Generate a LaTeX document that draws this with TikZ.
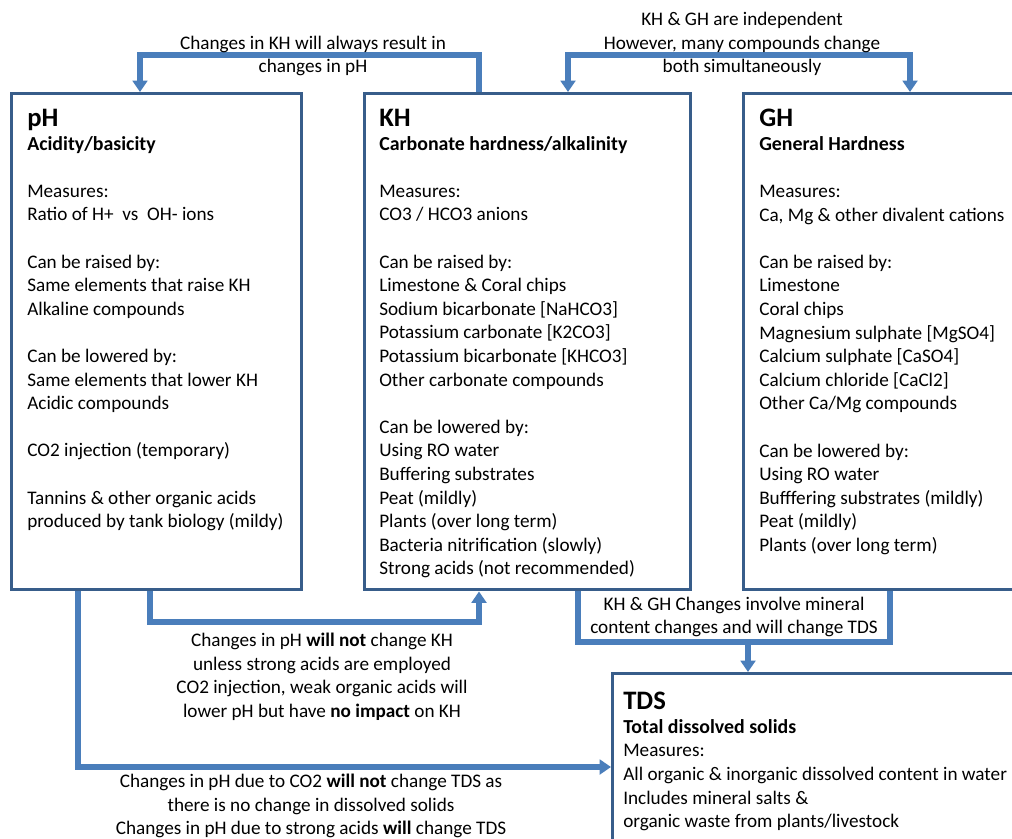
\documentclass[tikz,border=0pt]{standalone}
\usepackage{fontspec}
\setmainfont{Carlito}
\usetikzlibrary{arrows.meta,calc,positioning}
\definecolor{boxline}{HTML}{385D8A}
\definecolor{flowline}{HTML}{4A7EBB}
\newcommand{\bodyfont}{\fontsize{14.4}{17.7}\selectfont}
\newcommand{\headfont}{\fontsize{20}{17.7}\selectfont\bfseries}
\newcommand{\subhead}[1]{{\fontsize{14.9}{17.7}\selectfont\bfseries #1}}
\tikzset{
  panel/.style={draw=boxline, line width=2.6pt, fill=white, anchor=north west, inner sep=0pt},
  paneltext/.style={anchor=north west, inner sep=0pt, align=left, font=\bodyfont},
  flow/.style={draw=flowline, line width=3.9pt},
  tip/.tip={Triangle[width=11pt,length=8.5pt]},
  flowarrow/.style={flow, -tip},
  note/.style={align=center, font=\bodyfont, inner sep=0pt},
}
\begin{document}
\begin{tikzpicture}[x=0.75pt, y=0.75pt]
  \useasboundingbox[fill=white] (0,0) rectangle (1012,-838);
  % boxes (sizes in pt: 0.75pt per unit)
  \node[panel, minimum width=217.5pt, minimum height=372pt] (ph) at (10,-92) {};
  \node[panel, minimum width=244.5pt, minimum height=372pt] (kh) at (363,-92) {};
  \node[panel, minimum width=240pt, minimum height=372pt] (gh) at (742,-92) {};
  \node[panel, minimum width=322.5pt, minimum height=150pt] (tds) at (611,-672) {};
  % box texts
  \node[paneltext] (phtext) at ($(ph.north west)+(17,-17)$) {%
    {\headfont pH}\\
    \subhead{Acidity/basicity}\\ \mbox{}\\
    Measures:\\
    Ratio of H+ \ vs \ OH- ions\\ \mbox{}\\
    Can be raised by:\\
    Same elements that raise KH\\
    Alkaline compounds\\ \mbox{}\\
    Can be lowered by:\\
    Same elements that lower KH\\
    Acidic compounds\\ \mbox{}\\
    CO2 injection (temporary)\\ \mbox{}\\
    Tannins \& other organic acids\\
    produced by tank biology (mildy)};
  \node[paneltext] (khtext) at ($(kh.north west)+(16,-17)$) {%
    {\headfont KH}\\
    \subhead{Carbonate hardness/alkalinity}\\ \mbox{}\\
    Measures:\\
    CO3 / HCO3 anions\\ \mbox{}\\
    Can be raised by:\\
    Limestone \& Coral chips\\
    Sodium bicarbonate [NaHCO3]\\
    Potassium carbonate [K2CO3]\\
    Potassium bicarbonate [KHCO3]\\
    Other carbonate compounds\\ \mbox{}\\
    Can be lowered by:\\
    Using RO water\\
    Buffering substrates\\
    Peat (mildly)\\
    Plants (over long term)\\
    Bacteria nitrification (slowly)\\
    Strong acids (not recommended)};
  \node[paneltext] (ghtext) at ($(gh.north west)+(17,-17)$) {%
    {\headfont GH}\\
    \subhead{General Hardness}\\ \mbox{}\\
    Measures:\\
    Ca, Mg \& other divalent cations\\ \mbox{}\\
    Can be raised by:\\
    Limestone\\
    Coral chips\\
    Magnesium sulphate [MgSO4]\\
    Calcium sulphate [CaSO4]\\
    Calcium chloride [CaCl2]\\
    Other Ca/Mg compounds\\ \mbox{}\\
    Can be lowered by:\\
    Using RO water\\
    Bufffering substrates (mildly)\\
    Peat (mildly)\\
    Plants (over long term)};
  \node[paneltext] (tdstext) at ($(tds.north west)+(12,-20)$) {%
    {\headfont TDS}\\
    \subhead{Total dissolved solids}\\
    Measures:\\
    All organic \& inorganic dissolved content in water\\
    Includes mineral salts \&\\
    organic waste from plants/livestock};
  % connectors
  \coordinate (khph) at (312,-55);
  \draw[flowarrow] ($(kh.north west)+(116,0)$) |- (khph) -| ($(ph.north west)+(130,0)$);
  \coordinate (khgh) at (742,-55);
  \draw[flow, tip-tip] ($(kh.north west)+(205,0)$) |- (khgh) -| ($(gh.north west)+(168,0)$);
  \coordinate (phkh) at (322,-622);
  \draw[flowarrow] ($(ph.south west)+(140,0)$) |- (phkh) -| ($(kh.south west)+(116,0)$);
  \coordinate (phtds) at (340,-767);
  \draw[flowarrow] ($(ph.south west)+(68,0)$) |- (phtds) -- (tds.west |- phtds);
  \coordinate (mineral) at (748,-642);
  \draw[flow] ($(kh.south west)+(215,0)$) |- (mineral) -| ($(gh.south west)+(148,0)$);
  \draw[flowarrow] (mineral) -- (mineral |- tds.north);
  % connector labels
  \node[note] (khphnote) at (313,-56) {Changes in KH will always result in\\changes in pH};
  \node[note] (khghnote) at (742,-44) {KH \& GH are independent\\However, many compounds change\\both simultaneously};
  \node[note] (phkhnote) at (322,-677) {Changes in pH \textbf{will not} change KH\\unless strong acids are employed\\CO2 injection, weak organic acids will\\lower pH but have \textbf{no impact} on KH};
  \node[note] (phtdsnote) at (311,-806) {Changes in pH due to CO2 \textbf{will not} change TDS as\\there is no change in dissolved solids\\Changes in pH due to strong acids \textbf{will} change TDS};
  \node[note] (mineralnote) at (734,-617) {KH \& GH Changes involve mineral\\content changes and will change TDS};
\end{tikzpicture}
\end{document}
